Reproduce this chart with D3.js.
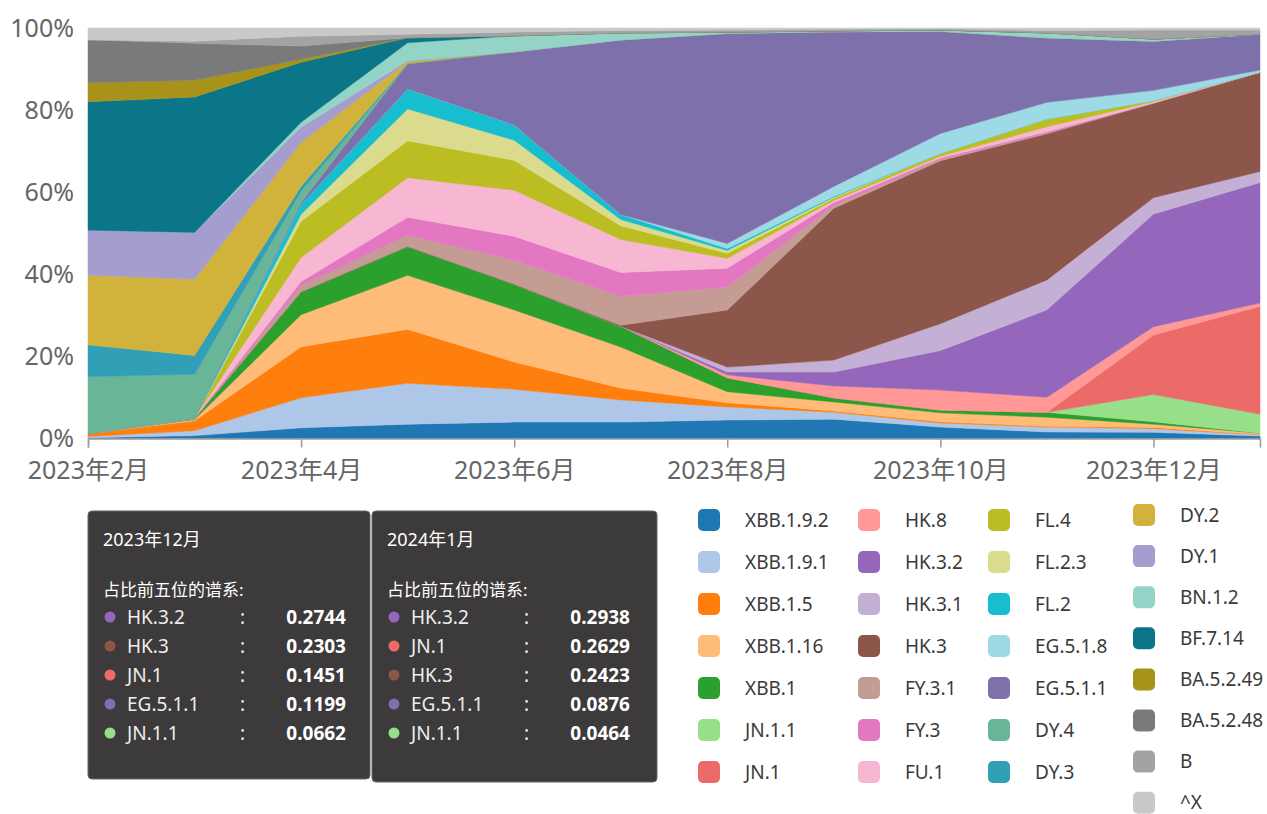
<!DOCTYPE html>
<html>
<head>
<meta charset="utf-8">
<script src="https://cdn.jsdelivr.net/npm/d3@7"></script>
<style>
    body { margin: 0; background: #fff; }
    svg text { font-family: "Noto Sans", "Noto Sans CJK SC", sans-serif; }
</style>
</head>
<body>
<div id="chart"></div>
<script>
// months on the x axis
var months = ["2023年2月", "2023年3月", "2023年4月", "2023年5月", "2023年6月", "2023年7月",
    "2023年8月", "2023年9月", "2023年10月", "2023年11月", "2023年12月", "2024年1月"];

// lineages, bottom of the stack first (same order as the legend)
var lineages = ["XBB.1.9.2", "XBB.1.9.1", "XBB.1.5", "XBB.1.16", "XBB.1", "JN.1.1", "JN.1",
    "HK.8", "HK.3.2", "HK.3.1", "HK.3", "FY.3.1", "FY.3", "FU.1", "FL.4", "FL.2.3", "FL.2",
    "EG.5.1.8", "EG.5.1.1", "DY.4", "DY.3", "DY.2", "DY.1", "BN.1.2", "BF.7.14",
    "BA.5.2.49", "BA.5.2.48", "B", "^X"];

var lineageColors = ["#1f77b4", "#aec7e8", "#ff7f0e", "#ffbb78", "#2ca02c", "#98df8a", "#ec6b68",
    "#ff9896", "#9467bd", "#c5b0d5", "#8c564b", "#c49c94", "#e377c2", "#f7b6d2", "#bcbd22",
    "#dbdb8d", "#17becf", "#9edae5", "#7e70aa", "#69b597", "#31a0b6", "#d1b23a", "#a59dce",
    "#93d4c6", "#0b7688", "#a8921a", "#7a7a7a", "#a3a3a3", "#c9c9c9"];

// share (%) per lineage per month
var shares = [
    [0.2, 0.7, 2.6, 3.5, 4.0, 4.0, 4.5, 4.7, 2.8, 1.6, 1.5, 0.6],       // XBB.1.9.2
    [0.3, 1.2, 7.3, 10.0, 8.0, 5.4, 3.2, 1.7, 1.0, 1.2, 0.9, 0.3],      // XBB.1.9.1
    [0.7, 2.4, 12.4, 13.2, 6.6, 2.9, 1.0, 0.3, 0.3, 0.2, 0.3, 0.1],     // XBB.1.5
    [0, 0.3, 7.8, 13.2, 12.7, 10.0, 2.7, 2.2, 2.2, 2.2, 0.8, 0.3],      // XBB.1.16
    [0, 0.3, 5.6, 7.1, 6.3, 5.1, 3.4, 1.0, 0.7, 1.2, 0.6, 0],           // XBB.1
    [0, 0, 0, 0, 0, 0, 0, 0, 0, 0, 6.62, 4.64],                          // JN.1.1
    [0, 0, 0, 0, 0, 0, 0, 0, 0, 0, 14.51, 26.29],                        // JN.1
    [0, 0, 0, 0, 0, 0, 0.7, 2.9, 4.9, 3.7, 2.0, 0.8],                    // HK.8
    [0, 0, 0, 0, 0, 0, 0.7, 3.4, 9.7, 21.4, 27.44, 29.38],               // HK.3.2
    [0, 0, 0, 0, 0, 0, 1.2, 2.9, 6.6, 7.3, 4.0, 2.7],                    // HK.3.1
    [0, 0, 0, 0, 0, 0.2, 13.9, 37.0, 40.0, 35.8, 23.03, 24.23],          // HK.3
    [0, 0, 1.5, 2.7, 5.8, 7.1, 5.6, 0.7, 0.4, 0.2, 0, 0],                // FY.3.1
    [0, 0, 1.0, 4.4, 5.8, 5.8, 4.6, 0.7, 0.3, 0.3, 0, 0],                // FY.3
    [0, 0, 5.8, 9.7, 11.2, 8.0, 2.4, 0.5, 0.4, 1.2, 0.3, 0],             // FU.1
    [0, 0, 8.8, 9.0, 7.3, 3.4, 1.2, 0.5, 0.7, 1.9, 0.3, 0],              // FL.4
    [0, 0, 1.7, 7.8, 4.9, 1.5, 0.7, 0.3, 0, 0, 0, 0],                    // FL.2.3
    [0, 0, 2.4, 4.9, 3.7, 1.2, 0.5, 0.2, 0, 0, 0, 0],                    // FL.2
    [0, 0, 0, 0, 0, 0, 1.2, 2.4, 4.9, 4.1, 2.5, 0.5],                    // EG.5.1.8
    [0, 0, 0.5, 6.1, 17.8, 42.6, 51.2, 37.7, 25.1, 15.8, 11.99, 8.76],   // EG.5.1.1
    [13.9, 10.7, 2.7, 0.1, 0, 0, 0, 0, 0, 0, 0, 0],                      // DY.4
    [7.8, 4.6, 1.2, 0, 0, 0, 0, 0, 0, 0, 0, 0],                          // DY.3
    [17.0, 18.5, 10.7, 0.5, 0, 0, 0, 0, 0, 0, 0, 0],                     // DY.2
    [11.0, 11.4, 3.7, 0.2, 0, 0, 0, 0, 0, 0, 0, 0],                      // DY.1
    [0, 0, 1.2, 4.4, 3.9, 1.7, 0.3, 0.2, 0.3, 1.2, 0.5, 0],              // BN.1.2
    [31.4, 32.9, 14.6, 1.2, 0, 0, 0, 0, 0, 0, 0, 0],                     // BF.7.14
    [4.6, 4.1, 0.7, 0, 0, 0, 0, 0, 0, 0, 0, 0],                          // BA.5.2.49
    [10.5, 9.0, 3.2, 0, 0, 0, 0, 0, 0, 0, 0, 0],                         // BA.5.2.48
    [0, 0.5, 2.4, 0.9, 0.9, 0.6, 0.5, 0.4, 0.3, 0.6, 2.2, 1.0],          // B
    [2.9, 3.2, 2.0, 1.5, 1.0, 0.6, 0.5, 0.3, 0.2, 0.6, 0.5, 0.5]         // ^X
];

// the two tooltips shown under the chart
var tipTitles = ["2023年12月", "2024年1月"];
var tipDecNames = ["HK.3.2", "HK.3", "JN.1", "EG.5.1.1", "JN.1.1"];
var tipDecValues = [0.2744, 0.2303, 0.1451, 0.1199, 0.0662];
var tipJanNames = ["HK.3.2", "JN.1", "HK.3", "EG.5.1.1", "JN.1.1"];
var tipJanValues = [0.2938, 0.2629, 0.2423, 0.0876, 0.0464];

var width = 1267, height = 814,
    plot = {left: 88, right: 1260, top: 28, bottom: 438.5};

var svg = d3.select("#chart").append("svg")
    .attr("width", width)
    .attr("height", height);

var table = months.map(function(m, i) {
    var row = {month: m};
    lineages.forEach(function(l, k) { row[l] = shares[k][i]; });
    return row;
});

var color = d3.scaleOrdinal().domain(lineages).range(lineageColors);

var x = d3.scalePoint().domain(months).range([plot.left, plot.right]);
var y = d3.scaleLinear().domain([0, 1]).range([plot.bottom, plot.top]);

var stacked = d3.stack()
    .keys(lineages)
    .offset(d3.stackOffsetExpand)(table);

var area = d3.area()
    .x(function(d) { return x(d.data.month); })
    .y0(function(d) { return y(d[0]); })
    .y1(function(d) { return y(d[1]); });

svg.append("g").selectAll("path")
    .data(stacked)
    .enter()
    .append("path")
    .attr("d", area)
    .style("fill", function(d) { return color(d.key); })
    .style("stroke", function(d) { return color(d.key); })
    .style("stroke-width", 0.5);

/*
 * Axes
 */
var xAxis = svg.append("g")
    .attr("transform", "translate(0," + plot.bottom + ")")
    .call(d3.axisBottom(x)
        .tickValues(months.filter(function(d, i) { return i % 2 === 0; }))
        .tickSize(9)
        .tickPadding(14));
xAxis.select(".domain").attr("stroke", "#9a9a9a").attr("stroke-width", 1.5);
xAxis.selectAll(".tick line").attr("stroke", "#9a9a9a").attr("stroke-width", 1.5);
xAxis.selectAll("text").attr("fill", "#666").style("font-size", "25px");

var yAxis = svg.append("g")
    .attr("transform", "translate(" + plot.left + ",0)")
    .call(d3.axisLeft(y).ticks(5).tickFormat(d3.format(".0%")).tickSize(0).tickPadding(14));
yAxis.select(".domain").remove();
yAxis.selectAll("text").attr("fill", "#666").style("font-size", "25px");

/*
 * Legend
 */
var legendCols = [
    {x: 698, y: 520, step: 42, items: lineages.slice(0, 7)},
    {x: 858, y: 520, step: 42, items: lineages.slice(7, 14)},
    {x: 988, y: 520, step: 42, items: lineages.slice(14, 21)},
    {x: 1133, y: 515, step: 41.1, items: lineages.slice(21)}
];

var legend = svg.append("g").attr("class", "legend");
legendCols.forEach(function(col) {
    var g = legend.append("g");
    var items = g.selectAll("g").data(col.items).enter().append("g")
        .attr("transform", function(d, i) {
            return "translate(" + col.x + "," + (col.y + i * col.step) + ")";
        });
    items.append("rect")
        .attr("x", 0).attr("y", -11)
        .attr("width", 22).attr("height", 22)
        .attr("rx", 5)
        .style("fill", function(d) { return color(d); });
    items.append("text")
        .attr("x", 47).attr("y", 0)
        .attr("dy", "0.35em")
        .style("font-size", "19px")
        .style("fill", "#3a3a3a")
        .text(function(d) { return d; });
});

/*
 * Tooltips
 */
var tips = [
    {x: 88, y: 511, w: 282, h: 268, title: tipTitles[0], names: tipDecNames, values: tipDecValues},
    {x: 372, y: 511, w: 285, h: 271, title: tipTitles[1], names: tipJanNames, values: tipJanValues}
];

tips.forEach(function(t) {
    var g = svg.append("g").attr("transform", "translate(" + t.x + "," + t.y + ")");
    g.append("rect")
        .attr("width", t.w).attr("height", t.h)
        .attr("rx", 4)
        .style("fill", "rgba(52,50,50,0.96)")
        .style("stroke", "#666")
        .style("stroke-width", 1);
    g.append("text")
        .attr("x", 15).attr("y", 29)
        .attr("dy", "0.35em")
        .style("font-size", "18px")
        .style("fill", "#fff")
        .text(t.title);
    g.append("text")
        .attr("x", 15).attr("y", 79)
        .attr("dy", "0.35em")
        .style("font-size", "17px")
        .style("fill", "#fff")
        .text("占比前五位的谱系:");
    var rows = g.selectAll("g.row").data(t.names).enter().append("g")
        .attr("class", "row")
        .attr("transform", function(d, i) { return "translate(0," + (106 + i * 29) + ")"; });
    rows.append("circle")
        .attr("cx", 22).attr("cy", 0).attr("r", 5.5)
        .style("fill", function(d) { return color(d); });
    rows.append("text")
        .attr("x", 39).attr("dy", "0.35em")
        .style("font-size", "19px")
        .style("fill", "#eee")
        .text(function(d) { return d; });
    rows.append("text")
        .attr("x", 152).attr("dy", "0.35em")
        .style("font-size", "19px")
        .style("fill", "#eee")
        .text(":");
    rows.append("text")
        .attr("x", 258).attr("dy", "0.35em")
        .attr("text-anchor", "end")
        .style("font-size", "19px")
        .style("font-weight", "bold")
        .style("fill", "#fff")
        .text(function(d, i) { return t.values[i].toFixed(4); });
});
</script>
</body>
</html>
